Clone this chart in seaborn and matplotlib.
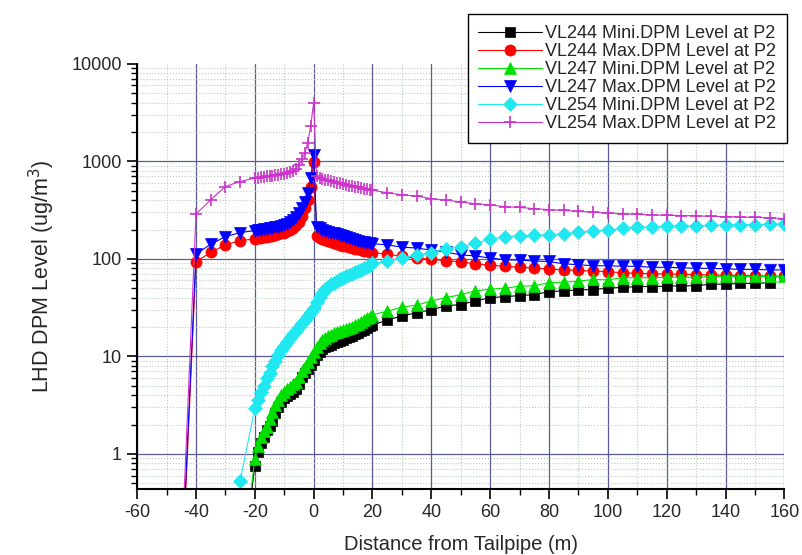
import numpy as np
import pandas as pd
import matplotlib
matplotlib.use("Agg")
import matplotlib.pyplot as plt
import seaborn as sns
from matplotlib.ticker import LogLocator, NullFormatter, MultipleLocator

# sample positions (m)
x_head_long = [-45, -40, -35, -30, -25]
x_head_short = [-25]
x_near = [-20, -19, -18, -17, -16, -15, -14, -13, -12, -11, -10, -9, -8, -7, -6, -5, -4, -3, -2, -1,
          0, 1, 2, 3, 4, 5, 6, 7, 8, 9, 10, 11, 12, 13, 14, 15, 16, 17, 18, 19, 20]
x_far = [25, 30, 35, 40, 45, 50, 55, 60, 65, 70, 75, 80, 85, 90, 95, 100, 105, 110, 115, 120,
         125, 130, 135, 140, 145, 150, 155, 160]

# VL244 Mini (black)
vl244_min_head = [0.05]
vl244_min_near = [0.75, 1.05, 1.3, 1.5, 1.75, 1.95, 2.2, 2.6, 3.0, 3.4, 3.7, 3.9, 4.1, 4.3, 4.6, 5.2, 6.2, 6.8, 7.5, 8.2,
                  9.2, 10.3, 11.2, 11.8, 12.4, 12.8, 13.2, 13.6, 14.0, 14.3, 14.8, 15.3, 15.8, 16.3, 16.9, 17.4, 18.0, 18.8, 19.5, 20.3, 21]
vl244_min_far = [23.5, 26, 28, 30, 33, 34, 37, 40, 41, 42, 43, 46, 47, 48, 48.5, 50, 51, 52, 52, 52.5,
                 53, 53, 55, 55, 56, 56, 57]

# VL244 Max (red)
vl244_max_head = [0.04, 93, 117, 139, 154]
vl244_max_near = [160, 162, 164, 166, 168, 170, 172, 175, 178, 182, 186, 191, 198, 207, 220, 240, 275, 330, 400, 550,
                  990, 170, 165, 160, 156, 152, 149, 146, 143, 140, 137, 134, 131, 129, 127, 125, 123, 121, 119, 117, 116]
vl244_max_far = [112, 106, 102, 99, 96, 93, 89, 86, 84, 82, 81, 78, 77.5, 76, 75, 74, 72, 71, 70.5, 70,
                 69.5, 69, 68.5, 68, 67.5, 67, 66.5, 66]

# VL247 Mini (green)
vl247_min_head = [0.05]
vl247_min_near = [0.88, 1.2, 1.5, 1.7, 1.9, 2.3, 2.7, 3.2, 3.6, 4.0, 4.3, 4.6, 4.9, 5.2, 5.5, 6.2, 7.0, 7.8, 8.7, 9.8,
                  11, 12.6, 13.7, 14.8, 15.6, 16.2, 16.7, 17.2, 17.6, 18.0, 18.5, 19.0, 19.6, 20.2, 20.9, 21.7, 22.5, 23.5, 24.5, 25.6, 26.7]
vl247_min_far = [29, 32, 33.5, 37, 40, 43, 47, 49, 50, 52.5, 53, 57, 57.5, 59, 61.5, 61, 64, 64, 64, 65,
                 65, 65, 66, 66, 66, 66, 66, 66]

# VL247 Max (blue)
vl247_max_head = [0.05, 112, 141, 169, 186]
vl247_max_near = [195, 197, 199, 201, 203, 205, 208, 211, 214, 218, 223, 229, 238, 250, 268, 295, 335, 380, 470, 670,
                  1170, 214, 206, 200, 195, 190, 186, 182, 178, 174, 170, 166, 162, 159, 156, 153, 150, 148, 146, 144, 143]
vl247_max_far = [139, 132, 129, 123, 117, 110, 107, 102, 98, 97, 95, 94, 89, 87, 85, 85, 84, 84, 82, 82,
                 81, 80, 80, 79, 78, 78, 77, 77]

# VL254 Mini (cyan)
vl254_min_head = [0.53]
vl254_min_near = [2.94, 3.6, 4.3, 5.0, 6.0, 6.8, 8.0, 9.0, 10.3, 11.5, 12.8, 14.2, 15.6, 17.0, 18.4, 20.0, 21.8, 23.8, 26.0, 28.5,
                  31, 36, 41, 45, 49, 52, 55, 57, 59, 61.5, 64, 66, 68, 70, 72.5, 75, 77.5, 80, 83, 86, 90]
vl254_min_far = [94, 102, 109, 116, 126, 133, 144, 160, 168, 173, 175, 177, 181, 187, 192, 197, 206, 211, 212, 216,
                 217, 219, 220, 222, 224, 225, 226, 228]

# VL254 Max (magenta)
vl254_max_head = [0.08, 288, 403, 552, 621]
vl254_max_near = [673, 680, 688, 695, 702, 708, 714, 720, 727, 735, 745, 757, 770, 787, 840, 920, 1050, 1213, 1560, 2310,
                  4000, 700, 680, 665, 650, 638, 626, 614, 603, 593, 583, 574, 565, 556, 548, 540, 533, 526, 519, 513, 508]
vl254_max_far = [475, 455, 440, 415, 400, 383, 368, 356, 343, 337, 327, 320, 314, 307, 302, 295, 290, 286, 282, 280,
                 278, 276, 273, 271, 269, 266, 264, 258]

labels = ["VL244 Mini.DPM Level at P2", "VL244 Max.DPM Level at P2", "VL247 Mini.DPM Level at P2",
          "VL247 Max.DPM Level at P2", "VL254 Mini.DPM Level at P2", "VL254 Max.DPM Level at P2"]

y_ticks = [1, 10, 100, 1000, 10000]
y_ticklabels = ["1", "10", "100", "1000", "10000"]

series = [
    (x_head_short + x_near + x_far[:-1], vl244_min_head + vl244_min_near + vl244_min_far, "#000000", "s", 7),
    (x_head_long + x_near + x_far, vl244_max_head + vl244_max_near + vl244_max_far, "#ff0000", "o", 8),
    (x_head_short + x_near + x_far, vl247_min_head + vl247_min_near + vl247_min_far, "#00e000", "^", 8.5),
    (x_head_long + x_near + x_far, vl247_max_head + vl247_max_near + vl247_max_far, "#0000ff", "v", 8.5),
    (x_head_short + x_near + x_far, vl254_min_head + vl254_min_near + vl254_min_far, "#20e8f0", "D", 7),
    (x_head_long + x_near + x_far, vl254_max_head + vl254_max_near + vl254_max_far, "#cc33cc", "+", 9),
]

sns.set_theme(style="white")
plt.rcParams["font.family"] = ["Liberation Sans", "DejaVu Sans"]
plt.rcParams["axes.unicode_minus"] = False

fig = plt.figure(figsize=(8.02, 5.55), dpi=100)
ax = fig.add_axes([0.171, 0.119, 0.807, 0.766])
ax.set_yscale("log")
ax.set_axisbelow(True)

for (xs, ys, c, m, ms), lab in zip(series, labels):
    df = pd.DataFrame({"x": xs, "y": ys})
    sns.lineplot(data=df, x="x", y="y", color=c, marker=m, markersize=ms,
                 markeredgecolor=c, markeredgewidth=1.2 if m == "+" else 0.5,
                 linewidth=0.8, label=lab, ax=ax, sort=False, errorbar=None)

ax.set_xlim(-60, 160)
ax.set_ylim(0.437, 10000)
ax.xaxis.set_major_locator(MultipleLocator(20))
ax.xaxis.set_minor_locator(MultipleLocator(10))
ax.set_yticks(y_ticks)
ax.set_yticklabels(y_ticklabels)
ax.yaxis.set_minor_locator(LogLocator(base=10, subs=[2, 3, 4, 5, 6, 7, 8, 9]))
ax.yaxis.set_minor_formatter(NullFormatter())

ax.grid(which="major", color="#5a5a96", linewidth=0.9)
ax.grid(which="minor", color="#b8ccb8", linestyle=":", linewidth=0.8)
ax.yaxis.get_gridlines()[-1].set_visible(False)
ax.xaxis.get_gridlines()[-1].set_visible(False)

for s in ["top", "right"]:
    ax.spines[s].set_visible(False)
for s in ["left", "bottom"]:
    ax.spines[s].set_color("black")
    ax.spines[s].set_linewidth(1.5)

ax.tick_params(which="major", direction="out", length=7, width=1.2, color="black",
               labelsize=13, left=True, bottom=True, pad=4)
ax.tick_params(which="minor", direction="out", length=4, width=1, color="black", left=True, bottom=True)

ax.set_xlabel("Distance from Tailpipe (m)", fontsize=14.5, labelpad=10)
ax.set_ylabel("LHD DPM Level (ug/m$^3$)", fontsize=15.5, labelpad=10)

leg = ax.legend(loc="upper right", bbox_to_anchor=(787 / 802, 1 - 14 / 555), bbox_transform=fig.transFigure,
                fontsize=13, frameon=True, fancybox=False, framealpha=1, edgecolor="black",
                handlelength=3.5, handletextpad=0.2, labelspacing=0.06, borderpad=0.6, borderaxespad=0)
leg.get_frame().set_linewidth(1.0)

fig.savefig("out.png", dpi=100)
